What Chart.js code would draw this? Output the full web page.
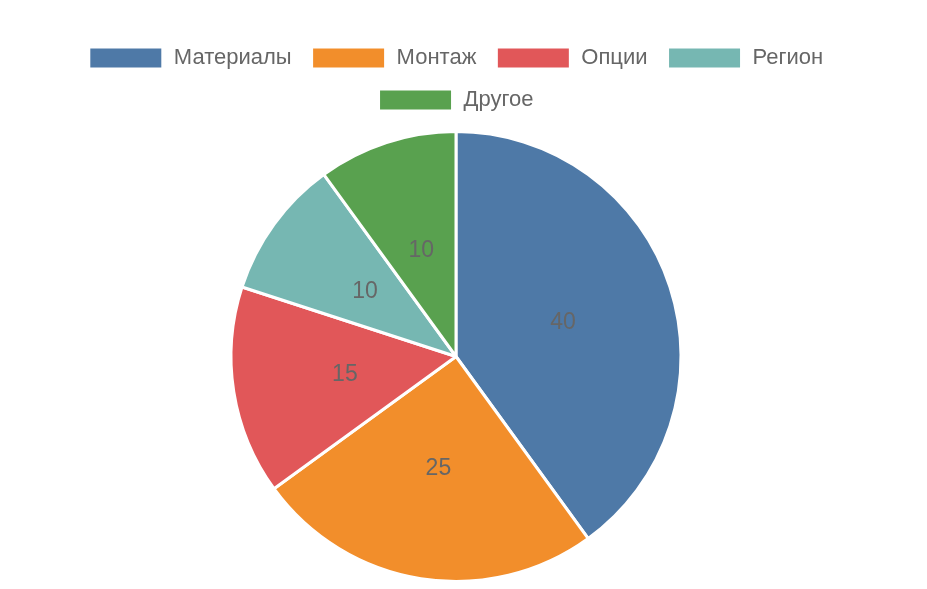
<!DOCTYPE html>
<html>
<head>
<meta charset="utf-8">
<script src="https://cdn.jsdelivr.net/npm/chart.js@4/dist/chart.umd.min.js"></script>
<style>
html,body{margin:0;padding:0;background:#fff;}
#wrap{position:absolute;left:0;top:27px;width:912px;height:556px;}
</style>
</head>
<body>
<div id="wrap"><canvas id="pie"></canvas></div>
<script>
// ========== Data ==========
const categories=['Материалы','Монтаж','Опции','Регион','Другое'];
const shares=[40,25,15,10,10];
const colors=['#4e79a7','#f28e2b','#e15759','#76b7b2','#59a14f'];

// ========== Slice labels ==========
const sliceLabels={
    id:'sliceLabels',
    afterDatasetsDraw(chart){
        const ctx=chart.ctx;
        const meta=chart.getDatasetMeta(0);
        ctx.save();
        ctx.font='23px "Liberation Sans", Arial, sans-serif';
        ctx.fillStyle='#666';
        ctx.textAlign='center';
        ctx.textBaseline='middle';
        meta.data.forEach((arc,i)=>{
            const p=arc.tooltipPosition();
            ctx.fillText(String(chart.data.datasets[0].data[i]),p.x,p.y+1);
        });
        ctx.restore();
    }
};

// ========== Legend gap ==========
const legendGap={
    id:'legendGap',
    beforeInit(chart){
        const fit=chart.legend.fit;
        chart.legend.fit=function(){fit.call(this); this.height+=9;};
    }
};

// ========== Chart ==========
new Chart(document.getElementById('pie'),{
    type:'pie',
    data:{labels:categories,datasets:[{data:shares,backgroundColor:colors,borderColor:'#fff',borderWidth:3}]},
    options:{
        responsive:true,maintainAspectRatio:false,animation:false,
        plugins:{
            legend:{position:'top',labels:{
                boxWidth:74,padding:20,color:'#666',
                font:{size:22,family:'"Liberation Sans", Arial, sans-serif'}
            }},
            tooltip:{enabled:false}
        }
    },
    plugins:[sliceLabels,legendGap]
});
</script>
</body>
</html>
